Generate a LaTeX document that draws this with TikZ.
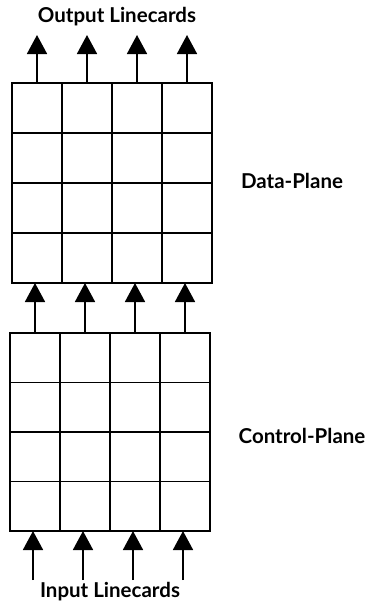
\documentclass[tikz,border=0pt]{standalone}
\usepackage{fontspec}
\setmainfont{Lato}
\usetikzlibrary{arrows.meta}
\begin{document}
\begin{tikzpicture}[x=1pt,y=-1pt,
  cell/.style={draw,line width=1.8pt,minimum width=50pt,minimum height=50pt,inner sep=0pt,outer sep=0pt},
  flow/.style={line width=1.8pt,-{Triangle[length=19pt,width=20pt]}},
  label/.style={font=\fontsize{20.5}{22}\selectfont\bfseries,inner sep=0pt}]
\useasboundingbox (0,0) rectangle (373,608);
% Data-plane grid
\foreach \r in {1,...,4}{
  \foreach \c in {1,...,4}{
    \node[cell] (d\r\c) at ({12+50*(\c-0.5)},{83+50*(\r-0.5)}) {};
  }
}
% Control-plane grid
\foreach \r in {1,...,4}{
  \foreach \c in {1,...,4}{
    \node[cell,minimum height=49.5pt] (c\r\c) at ({10+50*(\c-0.5)},{333+49.5*(\r-0.5)}) {};
  }
}
% linecard ends
\foreach \c in {1,...,4}{
  \coordinate (out\c) at ({12+50*(\c-0.5)},35);
  \coordinate (in\c) at ({10+50*(\c-0.5)-2},580);
}
% arrows
\foreach \c in {1,...,4}{
  \draw[flow] (d1\c.north) -- (out\c);
  \draw[flow] (c1\c.north) -- (c1\c.north |- d4\c.south);
  \draw[flow] (in\c) -- (c4\c.south-|in\c);
}
\node[label] (outl) at (117,17) {Output Linecards};
\node[label] (inl) at (110,592) {Input Linecards};
\node[label] (dp) at (292,181) {Data-Plane};
\node[label] (cp) at (302,436) {Control-Plane};
\end{tikzpicture}
\end{document}
